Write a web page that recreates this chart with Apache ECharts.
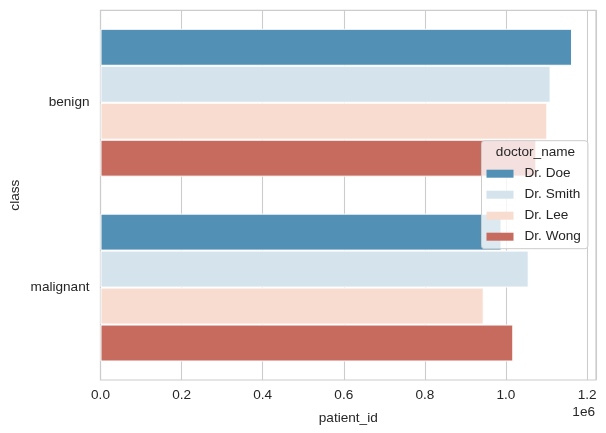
<!DOCTYPE html>
<html>
<head>
<meta charset="utf-8">
<script src="https://cdn.jsdelivr.net/npm/echarts@6/dist/echarts.min.js"></script>
<style>
html,body{margin:0;padding:0;background:#fff;}
#chart{width:606px;height:433px;}
</style>
</head>
<body>
<div id="chart"></div>
<script>
const categories = ['benign', 'malignant'];
const doctors = ['Dr. Doe', 'Dr. Smith', 'Dr. Lee', 'Dr. Wong'];
const drDoe = [1163000, 989000];
const drSmith = [1110000, 1056000];
const drLee = [1102000, 945000];
const drWong = [1075000, 1018000];
const xTicks = [0, 200000, 400000, 600000, 800000, 1000000, 1200000];

const seriesValues = [drDoe, drSmith, drLee, drWong];
const colors = ['#5290b5', '#d5e3ec', '#f7dccf', '#c76b5f'];
const FONT = "'Liberation Sans', Arial, sans-serif";
const TXT = '#262626';

const chart = echarts.init(document.getElementById('chart'), null, {renderer: 'canvas'});
chart.setOption({
  animation: false,
  backgroundColor: '#fff',
  textStyle: {fontFamily: FONT, color: TXT},
  grid: {
    left: 100.5, right: 10, top: 10.3, bottom: 53,
    containLabel: false, outerBoundsMode: 'none',
    show: true, borderColor: '#cccccc', borderWidth: 1.2, backgroundColor: 'transparent'
  },
  xAxis: {
    type: 'value',
    min: 0, max: 1222000, interval: 200000,
    axisLine: {show: false}, axisTick: {show: false},
    splitLine: {show: true, lineStyle: {color: '#cccccc', width: 1.1}},
    axisLabel: {
      color: TXT, fontSize: 13.6, fontFamily: FONT, margin: 8, showMaxLabel: false,
      formatter: v => xTicks.includes(v) ? (v / 1e6).toFixed(1) : ''
    },
    name: 'patient_id', nameLocation: 'middle', nameGap: 31, nameMoveOverlap: false,
    nameTextStyle: {color: TXT, fontSize: 13.6, fontFamily: FONT}
  },
  yAxis: {
    type: 'category', data: categories, inverse: true,
    axisLine: {show: false}, axisTick: {show: false},
    splitLine: {show: false},
    axisLabel: {color: TXT, fontSize: 13.6, fontFamily: FONT, margin: 11},
    name: 'class', nameLocation: 'middle', nameGap: 78, nameRotate: 90, nameMoveOverlap: false,
    nameTextStyle: {color: TXT, fontSize: 13.6, fontFamily: FONT}
  },
  legend: {
    data: doctors, orient: 'vertical',
    left: 481.5, top: 140.7,
    padding: [26, 7, 5, 5],
    icon: 'rect',
    itemWidth: 27, itemHeight: 8, itemGap: 7,
    backgroundColor: 'rgba(255,255,255,0.8)',
    borderColor: '#cccccc', borderWidth: 1, borderRadius: 3,
    textStyle: {color: TXT, fontSize: 13.6, fontFamily: FONT, padding: [0, 0, 0, 6]},
    itemStyle: {borderWidth: 0}
  },
  graphic: [
    {type: 'text', z: 100,
     style: {text: 'doctor_name', x: 535.5, y: 152, align: 'center', verticalAlign: 'middle',
       fill: TXT, font: "13.6px 'Liberation Sans', Arial, sans-serif"}},
    {type: 'text', z: 100,
     style: {text: '1e6', x: 595, y: 412, align: 'right', verticalAlign: 'middle',
       fill: TXT, font: "13.6px 'Liberation Sans', Arial, sans-serif"}}
  ],
  series: doctors.map((name, i) => ({
    type: 'bar', name: name, data: seriesValues[i],
    barGap: '0%', barCategoryGap: '20%',
    itemStyle: {color: colors[i], borderColor: '#ffffff', borderWidth: 1}
  }))
});
</script>
</body>
</html>
